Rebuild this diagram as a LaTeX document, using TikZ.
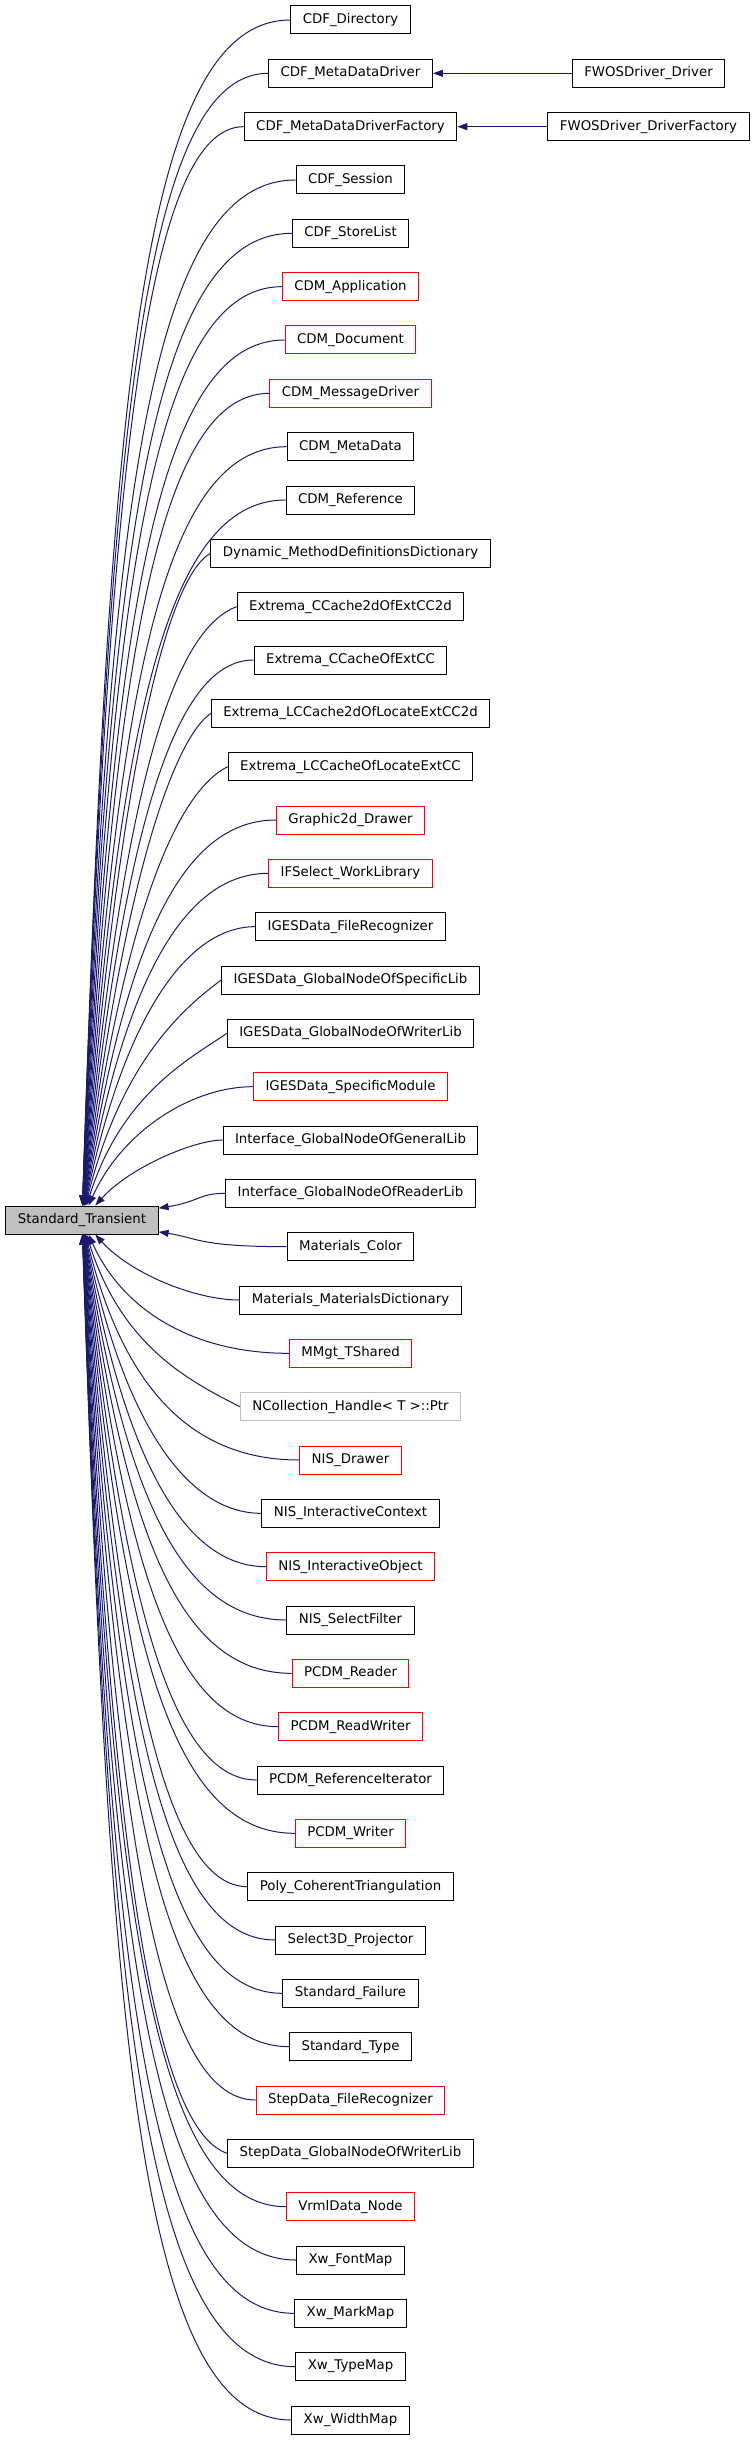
\documentclass[tikz,border=0pt]{standalone}
\usepackage{fontspec}
\setmainfont{DejaVu Sans}
\usepackage{tikz}
\usetikzlibrary{arrows.meta, positioning, calc}
\definecolor{edgeblue}{HTML}{191970}
\definecolor{boxgray}{HTML}{BFBFBF}

\begin{document}
\begin{tikzpicture}[
    x=1pt, y=-1pt,
    cls/.style={draw, line width=1pt, minimum height=28pt, inner xsep=12pt, inner ysep=0pt,
                font=\fontsize{13.33}{16}\selectfont},
    inh/.style={{Triangle[length=10pt,width=7pt]}-, draw=edgeblue, fill=none, line width=1pt},
]
\useasboundingbox (0,0) rectangle (752,2440);

\node[cls, fill=boxgray] (st) at (82,1220) {Standard\_Transient};

\foreach \i/\col/\txt in {1/black/CDF\_Directory, 2/black/CDF\_MetaDataDriver,
    3/black/CDF\_MetaDataDriverFactory, 4/black/CDF\_Session, 5/black/CDF\_StoreList,
    6/red/CDM\_Application, 7/red/CDM\_Document, 8/red/CDM\_MessageDriver,
    9/black/CDM\_MetaData, 10/black/CDM\_Reference,
    11/black/Dynamic\_MethodDefinitionsDictionary, 12/black/Extrema\_CCache2dOfExtCC2d,
    13/black/Extrema\_CCacheOfExtCC, 14/black/Extrema\_LCCache2dOfLocateExtCC2d,
    15/black/Extrema\_LCCacheOfLocateExtCC, 16/red/Graphic2d\_Drawer,
    17/red/IFSelect\_WorkLibrary, 18/black/IGESData\_FileRecognizer,
    19/black/IGESData\_GlobalNodeOfSpecificLib, 20/black/IGESData\_GlobalNodeOfWriterLib,
    21/red/IGESData\_SpecificModule, 22/black/Interface\_GlobalNodeOfGeneralLib,
    23/black/Interface\_GlobalNodeOfReaderLib, 24/black/Materials\_Color,
    25/black/Materials\_MaterialsDictionary, 26/red/MMgt\_TShared,
    27/boxgray/NCollection\_Handle\textless{} T \textgreater::Ptr, 28/red/NIS\_Drawer,
    29/black/NIS\_InteractiveContext, 30/red/NIS\_InteractiveObject,
    31/black/NIS\_SelectFilter, 32/red/PCDM\_Reader, 33/red/PCDM\_ReadWriter,
    34/black/PCDM\_ReferenceIterator, 35/red/PCDM\_Writer,
    36/black/Poly\_CoherentTriangulation, 37/black/Select3D\_Projector,
    38/black/Standard\_Failure, 39/black/Standard\_Type, 40/red/StepData\_FileRecognizer,
    41/black/StepData\_GlobalNodeOfWriterLib, 42/red/VrmlData\_Node,
    43/black/Xw\_FontMap, 44/black/Xw\_MarkMap, 45/black/Xw\_TypeMap, 46/black/Xw\_WidthMap}{
  \node[cls, draw=\col] (c\i) at (350.5,{20+(\i-1)*53.333}) {\txt};
}

\node[cls] (f2) at (648.5,{20+53.333}) {FWOSDriver\_Driver};
\node[cls] (f3) at (648.5,{20+2*53.333}) {FWOSDriver\_DriverFactory};

% inheritance edges into Standard_Transient
\foreach \i in {1,...,46}{
  \path (c\i.west); \pgfgetlastxy{\wx}{\wy}
  \pgfmathsetmacro\yc{20+(\i-1)*53.333}
  \pgfmathsetmacro\dd{\yc-1220}
  \pgfmathsetmacro\ad{abs(\dd)}
  \pgfmathsetmacro\sg{\dd<0 ? -1 : 1}
  \pgfmathsetmacro\cb{0.68*\dd}
  \pgfmathsetmacro\ca{min(0.68*\ad*(0.03+0.22*(1-\ad/1200)^2)+3000/\ad,120)}
  \pgfmathsetmacro\xe{min(200-0.05*\ad,\wx-25)}
  \pgfmathsetmacro\mt{(\wx<240 && \ad>150) ? 25 : 0}
  \pgfmathsetmacro\ye{\yc-\sg*\mt}
  \draw[inh] (st) .. controls +(\ca,\cb) and (\xe,\ye) .. (c\i.west);
}
\draw[inh] (c2) -- (f2);
\draw[inh] (c3) -- (f3);

\end{tikzpicture}
\end{document}
